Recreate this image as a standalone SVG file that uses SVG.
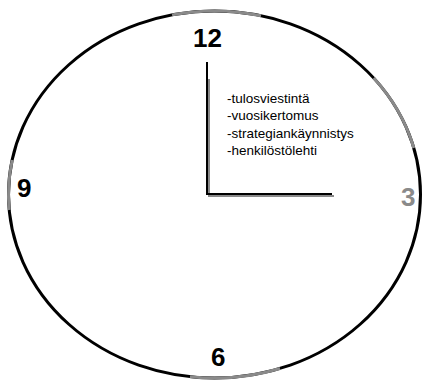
<svg xmlns="http://www.w3.org/2000/svg" width="424" height="381" viewBox="0 0 424 381">
<style>
.rim{fill:none;stroke:#000;stroke-width:3}
.grim{fill:none;stroke:#8a8a8a;stroke-width:3}
.num{font-family:"Liberation Sans",Arial,sans-serif;font-weight:bold;font-size:26px;fill:#000}
.lst{font-family:"Liberation Sans",Arial,sans-serif;font-size:13.5px;fill:#000}
</style>
<rect width="424" height="381" fill="#fff"/>
<g id="dial">
<ellipse class="rim" cx="214.5" cy="194.5" rx="206" ry="183.5"/>
<path class="grim" d="M172,14.9 A206,183.5 0 0 1 261,15.7"/>
<path class="grim" d="M373.7,78 A206,183.5 0 0 1 413.8,148"/>
<path class="grim" d="M280,368.5 A206,183.5 0 0 1 190,376.7"/>
<path class="grim" d="M9.2,210 A206,183.5 0 0 1 12.2,160"/>
</g>
<g id="hands">
<line x1="209" y1="79" x2="209" y2="197" stroke="#8a8a8a" stroke-width="2"/>
<line x1="208" y1="196" x2="334" y2="196" stroke="#8a8a8a" stroke-width="2"/>
<line x1="207" y1="62" x2="207" y2="195" stroke="#000" stroke-width="2"/>
<line x1="206" y1="194" x2="332" y2="194" stroke="#000" stroke-width="2"/>
</g>
<g id="n12"><text class="num" x="193" y="47">12</text></g>
<g id="n9"><text class="num" x="17" y="197">9</text></g>
<g id="n3"><text class="num" x="401" y="206" fill="#8a8a8a" style="fill:#8a8a8a">3</text></g>
<g id="n6"><text class="num" x="211" y="366">6</text></g>
<g id="list">
<text class="lst" x="227" y="103">-tulosviestintä</text>
<text class="lst" x="227" y="120">-vuosikertomus</text>
<text class="lst" x="227" y="137.5">-strategiankäynnistys</text>
<text class="lst" x="227" y="155">-henkilöstölehti</text>
</g>
</svg>
